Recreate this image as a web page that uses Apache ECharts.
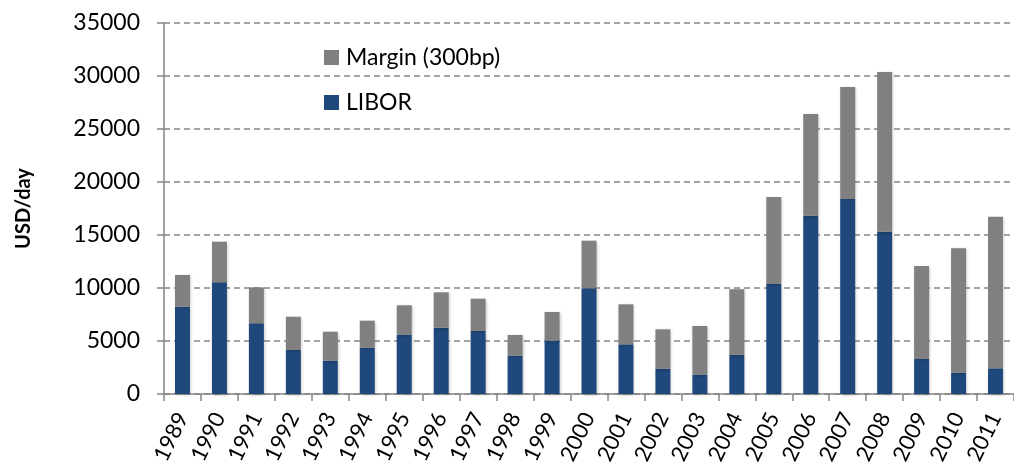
<!DOCTYPE html>
<html>
<head>
<meta charset="utf-8">
<script src="https://cdn.jsdelivr.net/npm/echarts@6/dist/echarts.min.js"></script>
<style>
  html, body { margin: 0; padding: 0; background: #fff; }
  #chart { width: 1014px; height: 469px; }
</style>
</head>
<body>
<div id="chart"></div>
<script>
const years = ['1989', '1990', '1991', '1992', '1993', '1994', '1995', '1996', '1997', '1998', '1999', '2000',
  '2001', '2002', '2003', '2004', '2005', '2006', '2007', '2008', '2009', '2010', '2011']
const libor = [8240, 10535, 6665, 4150, 3145, 4370, 5600, 6260, 5945, 3615, 5030, 9970,
  4685, 2390, 1825, 3710, 10380, 16825, 18395, 15315, 3300, 2010, 2420]
const margin = [2990, 3835, 3395, 3145, 2735, 2550, 2765, 3330, 3050, 1955, 2705, 4495,
  3775, 3710, 4590, 6165, 8205, 9590, 10565, 15060, 8775, 11735, 14305]

const font = 'Lato, "Open Sans", sans-serif'
const axisGrey = '#868686'

const chart = echarts.init(document.getElementById('chart'))

const option = {
  animation: false,
  textStyle: { fontFamily: font },
  grid: { left: 164, top: 23, width: 854, height: 371, containLabel: false },
  legend: {
    orient: 'vertical',
    left: 324,
    top: 46,
    padding: 0,
    itemWidth: 15,
    itemHeight: 15,
    itemGap: 22,
    icon: 'rect',
    data: ['Margin (300bp)', 'LIBOR'],
    textStyle: { fontFamily: font, fontSize: 23, color: '#000', padding: [0, 0, 0, 2] }
  },
  xAxis: {
    type: 'category',
    data: years,
    axisLine: { lineStyle: { color: axisGrey, width: 1.5 } },
    axisTick: { show: true, length: 7, inside: false, lineStyle: { color: axisGrey, width: 1.5 } },
    axisLabel: { rotate: 64, fontSize: 22, color: '#000', margin: 20, fontFamily: font, interval: 0 }
  },
  yAxis: {
    type: 'value',
    min: 0,
    max: 35000,
    interval: 5000,
    name: 'USD/day',
    nameLocation: 'middle',
    nameGap: 130,
    nameRotate: 90,
    nameTextStyle: { fontSize: 20, fontWeight: 'bold', color: '#000', fontFamily: font },
    axisLine: { show: true, lineStyle: { color: axisGrey, width: 1.5 } },
    axisTick: { show: true, length: 7, lineStyle: { color: axisGrey, width: 1.5 } },
    axisLabel: { fontSize: 23, color: '#000', margin: 24, fontFamily: font, formatter: v => String(v) },
    splitLine: { lineStyle: { color: axisGrey, type: [6, 4], width: 1.5 } }
  },
  series: [
    {
      name: 'LIBOR',
      type: 'bar',
      stack: 'total',
      barWidth: 15,
      data: libor,
      itemStyle: { color: '#1f497d', shadowColor: 'rgba(0,0,0,0.25)', shadowBlur: 3, shadowOffsetX: 1, shadowOffsetY: 1 }
    },
    {
      name: 'Margin (300bp)',
      type: 'bar',
      stack: 'total',
      barWidth: 15,
      data: margin,
      itemStyle: { color: '#808080', shadowColor: 'rgba(0,0,0,0.25)', shadowBlur: 3, shadowOffsetX: 1, shadowOffsetY: 1 }
    }
  ]
}

chart.setOption(option)
</script>
</body>
</html>
